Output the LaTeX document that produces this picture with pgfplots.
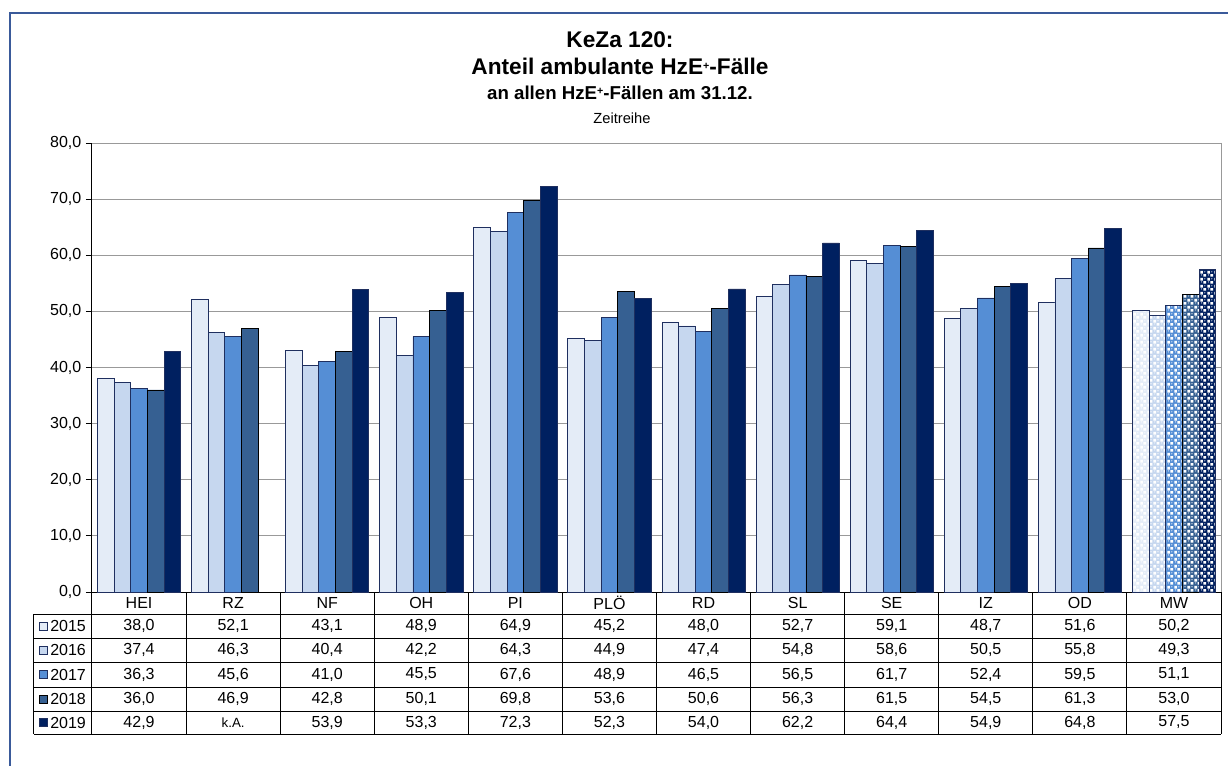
\documentclass[border=0pt]{standalone}
\usepackage{fontspec}
\setmainfont{Liberation Sans}
\usepackage{pgfplots}
\pgfplotsset{compat=1.18}
\usetikzlibrary{patterns}
\definecolor{c15}{HTML}{E4ECF7}
\definecolor{c16}{HTML}{C6D7EF}
\definecolor{c17}{HTML}{558ED5}
\definecolor{c18}{HTML}{366092}
\definecolor{c19}{HTML}{002060}
\definecolor{bdr}{HTML}{1F2F5F}
\definecolor{frm}{HTML}{3A5A9A}
\pgfdeclarepatternformonly{bubbles}{\pgfqpoint{0pt}{0pt}}{\pgfqpoint{5pt}{5pt}}{\pgfqpoint{5pt}{5pt}}{%
  \pgfpathrectangle{\pgfqpoint{0.2pt}{2.7pt}}{\pgfqpoint{2.1pt}{2.1pt}}%
  \pgfpathrectangle{\pgfqpoint{2.7pt}{0.2pt}}{\pgfqpoint{2.1pt}{2.1pt}}%
  \pgfpathcircle{\pgfqpoint{1.25pt}{1.6pt}}{0.45pt}%
  \pgfpathcircle{\pgfqpoint{3.75pt}{4.1pt}}{0.45pt}%
  \pgfusepath{fill}%
}
\newcommand\tf{\fontsize{12}{14}\selectfont}
\newcommand\supplus{{\fontsize{8}{8}\selectfont\raisebox{0.9ex}{+}}}
\begin{document}
\begin{tikzpicture}
\begin{axis}[
  at={(0,0)}, anchor=south west,
  scale only axis, width=846.75pt, height=336.75pt,
  xmin=-0.5, xmax=11.5, ymin=0, ymax=80,
  ybar, bar width=0.177,
  xtick=\empty,
  ytick={0,10,...,80},
  ymajorgrids, grid style={color=gray!80, line width=0.6pt},
  axis x line*=bottom, axis y line*=left,
  axis line style={-, black, line width=0.75pt},
  tick align=outside, major tick length=4.5pt,
  ytick style={black, line width=0.75pt},
  yticklabel style={font=\tf, /pgf/number format/.cd, fixed, fixed zerofill, precision=1, use comma, assume math mode=true},
  clip=false,
  every axis plot/.append style={line width=0.6pt},
]
\addplot[fill=c15, draw=bdr, bar shift=-0.354] coordinates {(0,38.0) (1,52.1) (2,43.1) (3,48.9) (4,64.9) (5,45.2) (6,48.0) (7,52.7) (8,59.1) (9,48.7) (10,51.6)};
\addplot[fill=c16, draw=bdr, bar shift=-0.177] coordinates {(0,37.4) (1,46.3) (2,40.4) (3,42.2) (4,64.3) (5,44.9) (6,47.4) (7,54.8) (8,58.6) (9,50.5) (10,55.8)};
\addplot[fill=c17, draw=bdr, bar shift=0] coordinates {(0,36.3) (1,45.6) (2,41.0) (3,45.5) (4,67.6) (5,48.9) (6,46.5) (7,56.5) (8,61.7) (9,52.4) (10,59.5)};
\addplot[fill=c18, draw=black, bar shift=0.177] coordinates {(0,36.0) (1,46.9) (2,42.8) (3,50.1) (4,69.8) (5,53.6) (6,50.6) (7,56.3) (8,61.5) (9,54.5) (10,61.3)};
\addplot[fill=c19, draw=bdr, bar shift=0.354] coordinates {(0,42.9) (2,53.9) (3,53.3) (4,72.3) (5,52.3) (6,54.0) (7,62.2) (8,64.4) (9,54.9) (10,64.8)};
% MW patterned
\addplot[fill=c15, draw=bdr, bar shift=-0.354, postaction={pattern=bubbles, pattern color=white}] coordinates {(11,50.2)};
\addplot[fill=c16, draw=bdr, bar shift=-0.177, postaction={pattern=bubbles, pattern color=white}] coordinates {(11,49.3)};
\addplot[fill=c17, draw=bdr, bar shift=0, postaction={pattern=bubbles, pattern color=white}] coordinates {(11,51.1)};
\addplot[fill=c18, draw=black, bar shift=0.177, postaction={pattern=bubbles, pattern color=white}] coordinates {(11,53.0)};
\addplot[fill=c19, draw=bdr, bar shift=0.354, postaction={pattern=bubbles, pattern color=white}] coordinates {(11,57.5)};
\end{axis}
\begin{scope}[x=0.75pt, y=-0.75pt, xshift=-69pt, yshift=444pt]
\useasboundingbox (0,0) rectangle (1228,765);
\draw[frm, line width=0.8pt] (10,780) -- (10,13) -- (1240,13);
\draw[gray!80, line width=0.6pt] (1221,143) -- (1221,592);
% titles
\node[anchor=base, font=\fontsize{17}{20}\selectfont\bfseries] at (620,48) {KeZa 120:};
\node[anchor=base, font=\fontsize{17}{20}\selectfont\bfseries] at (620,75) {Anteil ambulante HzE\supplus-Fälle};
\node[anchor=base, font=\fontsize{14}{16}\selectfont\bfseries] at (620,100) {an allen HzE\supplus-Fällen am 31.12.};
\node[anchor=base, font=\fontsize{11}{13}\selectfont] at (622,124) {Zeitreihe};
% table grid
\foreach \yy in {614,638,662,687,711,734} {\draw[black, line width=0.75pt] (34,\yy) -- (1221,\yy);}
\draw[black, line width=0.75pt] (34,614) -- (34,734);
\foreach \k in {0,...,12} {\draw[black, line width=0.75pt] ({92+94.083*\k},592) -- ({92+94.083*\k},734);}
% header
\foreach \n [count=\i from 0] in {HEI,RZ,NF,OH,PI,PLÖ,RD,SL,SE,IZ,OD,MW}
  {\node[font=\tf] at ({92+94.083*(\i+0.5)},603) {\n};}
% legend keys
\foreach \c/\yr/\yy/\bd in {c15/2015/626/bdr, c16/2016/650/bdr, c17/2017/674.5/bdr, c18/2018/699/black, c19/2019/722.5/bdr} {
  \filldraw[fill=\c, draw=\bd, line width=0.6pt] (39,\yy-4) rectangle (47,\yy+4);
  \node[font=\tf, anchor=west, inner sep=0pt] at (50,\yy) {\yr};
}
% values
\foreach \v [count=\i from 0] in {{38,0},{52,1},{43,1},{48,9},{64,9},{45,2},{48,0},{52,7},{59,1},{48,7},{51,6},{50,2}}
  {\node[font=\tf] at ({92+94.083*(\i+0.5)},626) {\v};}
\foreach \v [count=\i from 0] in {{37,4},{46,3},{40,4},{42,2},{64,3},{44,9},{47,4},{54,8},{58,6},{50,5},{55,8},{49,3}}
  {\node[font=\tf] at ({92+94.083*(\i+0.5)},650) {\v};}
\foreach \v [count=\i from 0] in {{36,3},{45,6},{41,0},{45,5},{67,6},{48,9},{46,5},{56,5},{61,7},{52,4},{59,5},{51,1}}
  {\node[font=\tf] at ({92+94.083*(\i+0.5)},674.5) {\v};}
\foreach \v [count=\i from 0] in {{36,0},{46,9},{42,8},{50,1},{69,8},{53,6},{50,6},{56,3},{61,5},{54,5},{61,3},{53,0}}
  {\node[font=\tf] at ({92+94.083*(\i+0.5)},699) {\v};}
\foreach \v [count=\i from 0] in {{42,9},{\fontsize{10}{12}\selectfont k.A.},{53,9},{53,3},{72,3},{52,3},{54,0},{62,2},{64,4},{54,9},{64,8},{57,5}}
  {\node[font=\tf] at ({92+94.083*(\i+0.5)},722.5) {\v};}
\end{scope}
\end{tikzpicture}
\end{document}
